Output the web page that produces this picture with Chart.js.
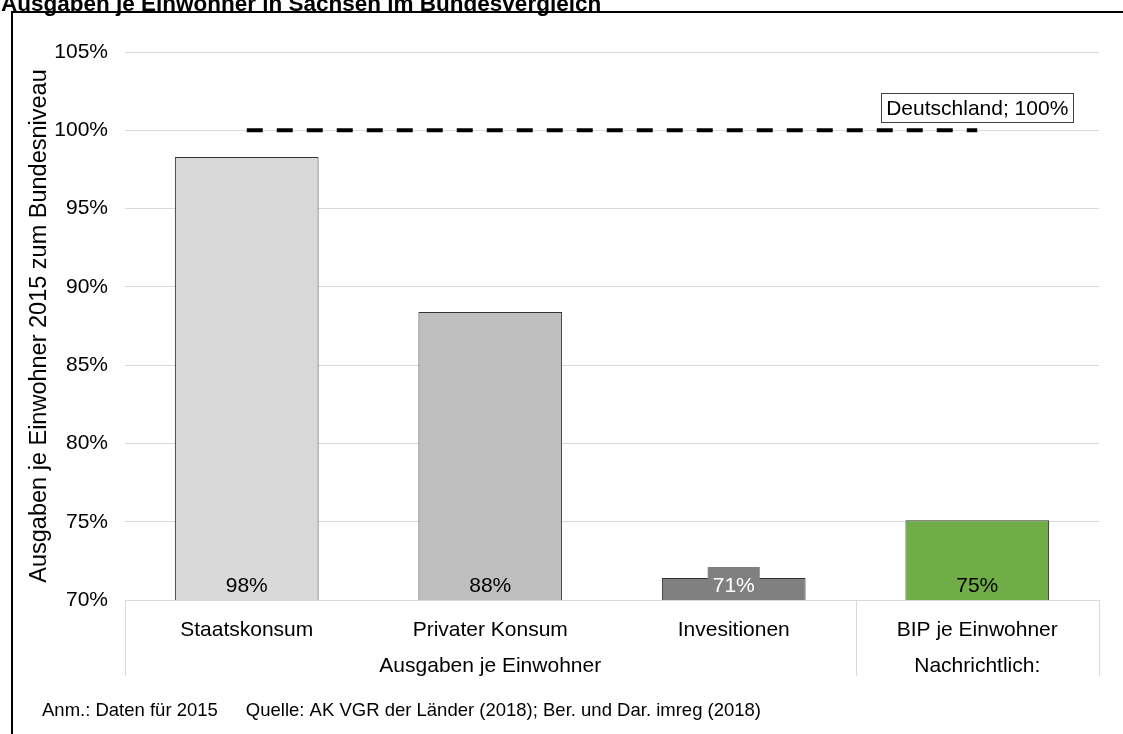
<!DOCTYPE html>
<html>
<head>
<meta charset="utf-8">
<script src="https://cdn.jsdelivr.net/npm/chart.js@4"></script>
<style>
  html, body { margin: 0; padding: 0; background: #fff; }
  #wrap { position: relative; width: 1123px; height: 734px; }
</style>
</head>
<body>
<div id="wrap"><canvas id="chart"></canvas></div>
<script>
// Werte
var categories = ['Staatskonsum', 'Privater Konsum', 'Invesitionen', 'BIP je Einwohner'];
var values = [98.3, 88.4, 71.4, 75.1];
var valueLabels = ['98%', '88%', '71%', '75%'];
var barColors = ['#d9d9d9', '#bfbfbf', '#808080', '#70ad47'];
var labelColors = ['#000000', '#000000', '#ffffff', '#000000'];
var germany = [100, 100, 100, 100];
var germanyLabel = 'Deutschland; 100%';
var groupLabels = ['Ausgaben je Einwohner', 'Nachrichtlich:'];
var groupSizes = [3, 1];
var yMin = 70, yMax = 105, yStep = 5;
var titleText = 'Ausgaben je Einwohner in Sachsen im Bundesvergleich';
var noteText = 'Anm.: Daten für 2015';
var sourceText = 'Quelle: AK VGR der Länder (2018); Ber. und Dar. imreg (2018)';

var FONT = "'Liberation Sans', Arial, sans-serif";
Chart.defaults.font.family = FONT;
Chart.defaults.color = '#000';

// Datenbeschriftungen unten im Balken, Hintergrund in Balkenfarbe
var barLabels = {
    id: 'barLabels',
    afterDatasetsDraw: function (chart) {
        var ctx = chart.ctx;
        var meta = chart.getDatasetMeta(0);
        var base = chart.scales.y.getPixelForValue(yMin);
        ctx.save();
        ctx.font = '21px ' + FONT;
        ctx.textAlign = 'center';
        ctx.textBaseline = 'middle';
        meta.data.forEach(function (bar, i) {
            var w = ctx.measureText(valueLabels[i]).width + 10;
            var h = 33;
            ctx.fillStyle = barColors[i];
            ctx.fillRect(bar.x - w / 2, base - h, w, h);
            ctx.fillStyle = labelColors[i];
            ctx.fillText(valueLabels[i], bar.x, base - 14);
        });

        // Beschriftung der Deutschland-Linie am letzten Punkt
        var line = chart.getDatasetMeta(1).data;
        var last = line[line.length - 1];
        var tw = ctx.measureText(germanyLabel).width + 10;
        var th = 29;
        ctx.fillStyle = '#fff';
        ctx.fillRect(last.x - tw / 2, last.y - 8 - th, tw, th);
        ctx.strokeStyle = '#404040';
        ctx.lineWidth = 1;
        ctx.strokeRect(Math.round(last.x - tw / 2) + 0.5, Math.round(last.y - 8 - th) + 0.5, Math.round(tw), th);
        ctx.fillStyle = '#000';
        ctx.fillText(germanyLabel, last.x, last.y - 8 - th / 2 + 1);
        ctx.restore();
    }
};

// zweite Ebene der x-Achse und Trennlinien
var axisGroups = {
    id: 'axisGroups',
    afterDraw: function (chart) {
        var ctx = chart.ctx;
        var xs = chart.scales.x;
        var area = chart.chartArea;
        var cw = xs.width / categories.length;
        ctx.save();
        ctx.strokeStyle = '#d9d9d9';
        ctx.lineWidth = 1;
        ctx.font = '21px ' + FONT;
        ctx.textAlign = 'center';
        ctx.textBaseline = 'middle';
        ctx.fillStyle = '#000';
        var start = 0;
        var edges = [xs.left];
        groupSizes.forEach(function (n, g) {
            var x0 = xs.getPixelForValue(start) - cw / 2;
            var x1 = xs.getPixelForValue(start + n - 1) + cw / 2;
            edges.push(x1);
            ctx.fillText(groupLabels[g], (x0 + x1) / 2, area.bottom + 66);
            start += n;
        });
        edges.forEach(function (x) {
            ctx.beginPath();
            ctx.moveTo(Math.round(x) + 0.5, area.bottom);
            ctx.lineTo(Math.round(x) + 0.5, area.bottom + 76);
            ctx.stroke();
        });

        // Titel, Rahmen, Fußnote
        ctx.textAlign = 'left';
        ctx.textBaseline = 'alphabetic';
        ctx.font = 'bold 22.5px ' + FONT;
        ctx.fillText(titleText, 1, 11);
        ctx.strokeStyle = '#000';
        ctx.lineWidth = 2;
        ctx.beginPath();
        ctx.moveTo(12, 740);
        ctx.lineTo(12, 12);
        ctx.lineTo(1130, 12);
        ctx.stroke();
        ctx.font = '18.5px ' + FONT;
        ctx.fillText(noteText, 42, 716);
        ctx.fillText(sourceText, 42 + ctx.measureText(noteText).width + 28, 716);
        ctx.restore();
    }
};

new Chart(document.getElementById('chart'), {
    data: {
        labels: categories,
        datasets: [
            {
                type: 'bar',
                data: values,
                backgroundColor: barColors,
                borderColor: '#333',
                borderWidth: 1,
                barPercentage: 0.59,
                categoryPercentage: 1,
                order: 2
            },
            {
                type: 'line',
                data: germany,
                borderColor: '#000',
                borderWidth: 4,
                borderDash: [16, 14],
                pointRadius: 0,
                fill: false,
                order: 1
            }
        ]
    },
    options: {
        responsive: true,
        maintainAspectRatio: false,
        animation: false,
        layout: { padding: { top: 52, right: 24, left: 25, bottom: 0 } },
        plugins: { legend: { display: false }, tooltip: { enabled: false } },
        scales: {
            x: {
                offset: true,
                grid: { display: false },
                border: { display: true, color: '#d9d9d9' },
                ticks: { font: { size: 21 }, padding: 10, color: '#000', maxRotation: 0 },
                afterFit: function (s) { s.height = 134; }
            },
            y: {
                min: yMin,
                max: yMax,
                ticks: {
                    stepSize: yStep,
                    font: { size: 21 },
                    padding: 17,
                    color: '#000',
                    callback: function (v) { return v + '%'; }
                },
                grid: { color: '#d9d9d9', drawTicks: false },
                border: { display: false },
                title: {
                    display: true,
                    text: 'Ausgaben je Einwohner 2015 zum Bundesniveau',
                    font: { size: 23.5 },
                    color: '#000',
                    padding: 0
                },
                afterFit: function (s) { s.width = 100; }
            }
        }
    },
    plugins: [barLabels, axisGroups]
});
</script>
</body>
</html>
